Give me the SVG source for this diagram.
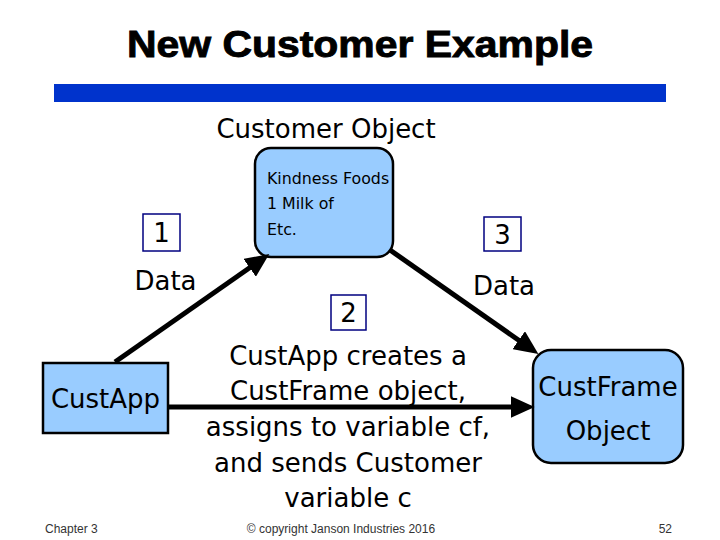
<svg xmlns="http://www.w3.org/2000/svg" width="720" height="540" viewBox="0 0 720 540">
<style>
.lbl{font-family:"DejaVu Sans","Verdana",sans-serif;font-size:26px;fill:#000}
.small{font-family:"DejaVu Sans","Verdana",sans-serif;font-size:15.8px;fill:#000}
.node{fill:#99ccff;stroke:#000;stroke-width:2.5}
.num{fill:none;stroke:#000080;stroke-width:1.5}
.conn{stroke:#000;stroke-width:5;fill:none}
.foot{font-family:"Liberation Sans",Arial,sans-serif;font-size:12px;fill:#333}
</style>
<defs>
<marker id="ah" markerUnits="userSpaceOnUse" markerWidth="24" markerHeight="22" viewBox="0 0 22 20" refX="4" refY="10" orient="auto">
<path d="M0,0 L22,10 L0,20 z" fill="#000"/>
</marker>
</defs>
<rect width="720" height="540" fill="#fff"/>
<text x="360" y="57" text-anchor="middle" font-family="'Liberation Sans',Arial,sans-serif" font-weight="bold" font-size="37" stroke="#000" stroke-width="0.9" textLength="466" lengthAdjust="spacingAndGlyphs">New Customer Example</text>
<rect x="54" y="84" width="612" height="18" fill="#0033cc"/>
<text class="lbl" x="326" y="138" text-anchor="middle">Customer Object</text>

<g id="customer-object">
<rect class="node" x="255" y="148" width="138" height="109" rx="16"/>
<text class="small" x="267" y="184">Kindness Foods</text>
<text class="small" x="267" y="209">1 Milk of</text>
<text class="small" x="267" y="235">Etc.</text>
</g>

<g id="label-1">
<rect class="num" x="143" y="214" width="37" height="37"/>
<text class="lbl" x="161.5" y="242" text-anchor="middle">1</text>
<text class="lbl" x="165.5" y="290" text-anchor="middle">Data</text>
</g>

<g id="label-3">
<rect class="num" x="484" y="217" width="37" height="34"/>
<text class="lbl" x="502.5" y="244" text-anchor="middle">3</text>
<text class="lbl" x="504" y="295" text-anchor="middle">Data</text>
</g>

<g id="label-2">
<rect class="num" x="331" y="295" width="35" height="35"/>
<text class="lbl" x="348.5" y="322" text-anchor="middle">2</text>
<text class="lbl" x="348" y="365" text-anchor="middle">CustApp creates a</text>
<text class="lbl" x="348" y="400" text-anchor="middle">CustFrame object,</text>
<text class="lbl" x="348" y="436" text-anchor="middle">assigns to variable cf,</text>
<text class="lbl" x="348" y="472" text-anchor="middle">and sends Customer</text>
<text class="lbl" x="348" y="507" text-anchor="middle">variable c</text>
</g>

<g id="custapp">
<rect class="node" x="43" y="363" width="125" height="70" rx="0"/>
<text class="lbl" x="105.5" y="408" text-anchor="middle">CustApp</text>
</g>

<g id="custframe">
<rect class="node" x="533" y="350" width="150" height="113" rx="18"/>
<text class="lbl" x="608" y="396" text-anchor="middle">CustFrame</text>
<text class="lbl" x="608" y="440" text-anchor="middle">Object</text>
</g>

<g id="connectors">
<line class="conn" x1="115" y1="362" x2="253.2" y2="265.3" marker-end="url(#ah)"/>
<line class="conn" x1="390" y1="250" x2="522.3" y2="342.7" marker-end="url(#ah)"/>
<line class="conn" x1="168" y1="407" x2="515" y2="407" marker-end="url(#ah)"/>
</g>

<text class="foot" x="45" y="533">Chapter 3</text>
<text class="foot" x="341" y="533" text-anchor="middle">© copyright Janson Industries 2016</text>
<text class="foot" x="672" y="533" text-anchor="end">52</text>
</svg>
